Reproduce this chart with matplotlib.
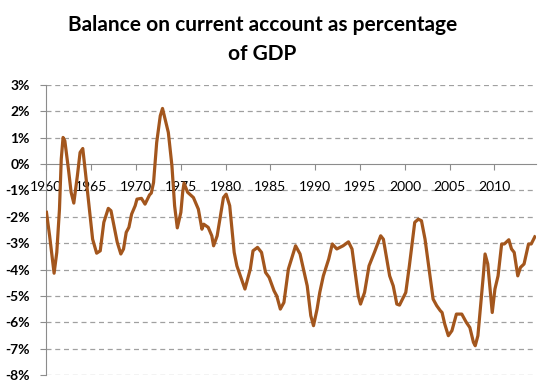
import matplotlib
matplotlib.use("Agg")
import matplotlib.pyplot as plt

title = "Balance on current account as percentage\nof GDP"

years = [1960.0, 1960.35, 1960.85, 1961.15, 1961.45, 1961.65, 1961.85, 1962.05, 1962.45, 1962.75,
         1963.05, 1963.45, 1963.75, 1964.05, 1964.35, 1964.75, 1965.15, 1965.6, 1966.0, 1966.4,
         1966.9, 1967.2, 1967.5, 1967.9, 1968.3, 1968.6, 1968.9, 1969.2, 1969.5, 1969.9,
         1970.1, 1970.6, 1971.0, 1971.5, 1971.7, 1971.95, 1972.3, 1972.7, 1972.95, 1973.6,
         1974.0, 1974.3, 1974.6, 1975.0, 1975.2, 1975.35, 1975.75, 1976.4, 1976.95, 1977.35,
         1977.55, 1978.05, 1978.45, 1978.65, 1979.05, 1979.75, 1980.05, 1980.45, 1980.95, 1981.25,
         1982.15, 1982.75, 1983.05, 1983.55, 1984.0, 1984.45, 1984.85, 1985.4, 1985.7, 1986.1,
         1986.5, 1987.0, 1987.8, 1988.3, 1989.1, 1989.5, 1989.8, 1990.2, 1990.5, 1990.9,
         1991.5, 1991.9, 1992.4, 1993.1, 1993.7, 1994.1, 1994.4, 1994.8, 1995.05, 1995.5,
         1996.0, 1996.6, 1997.3, 1997.6, 1998.3, 1998.7, 1999.1, 1999.4, 2000.1, 2000.5,
         2001.1, 2001.5, 2001.85, 2002.25, 2002.65, 2003.15, 2003.55, 2003.95, 2004.15, 2004.45,
         2004.85, 2005.25, 2005.75, 2006.35, 2006.85, 2007.25, 2007.65, 2007.85, 2008.15, 2008.75,
         2008.95, 2009.25, 2009.75, 2010.05, 2010.4, 2010.8, 2011.1, 2011.6, 2011.9, 2012.2,
         2012.6, 2012.9, 2013.3, 2013.8, 2014.1, 2014.5]

balance = [-1.83, -2.72, -4.14, -3.35, -1.71, 0.19, 1.01, 0.88, -0.19, -1.07,
           -1.48, -0.44, 0.44, 0.59, -0.32, -1.58, -2.85, -3.38, -3.29, -2.21,
           -1.68, -1.77, -2.28, -2.97, -3.41, -3.22, -2.59, -2.40, -1.90, -1.58,
           -1.33, -1.30, -1.52, -1.17, -1.10, -0.70, 0.82, 1.83, 2.11, 1.20,
           -0.06, -1.58, -2.42, -1.83, -1.07, -0.72, -1.07, -1.27, -1.71, -2.47,
           -2.28, -2.40, -2.72, -3.10, -2.72, -1.27, -1.14, -1.58, -3.35, -3.86,
           -4.74, -3.98, -3.29, -3.16, -3.35, -4.11, -4.30, -4.81, -5.00, -5.50,
           -5.25, -3.98, -3.10, -3.41, -4.62, -5.75, -6.13, -5.50, -4.87, -4.24,
           -3.60, -3.03, -3.22, -3.10, -2.95, -3.22, -3.98, -5.00, -5.31, -4.87,
           -3.86, -3.35, -2.72, -2.85, -4.24, -4.62, -5.31, -5.35, -4.87, -3.86,
           -2.21, -2.09, -2.15, -2.85, -3.86, -5.12, -5.37, -5.56, -5.63, -6.07,
           -6.51, -6.32, -5.69, -5.69, -6.00, -6.20, -6.76, -6.89, -6.51, -4.24,
           -3.41, -3.79, -5.63, -4.74, -4.24, -3.03, -3.03, -2.87, -3.22, -3.35,
           -4.24, -3.92, -3.79, -3.03, -3.03, -2.76]

x_ticks = [1960, 1965, 1970, 1975, 1980, 1985, 1990, 1995, 2000, 2005, 2010]
y_ticks = [3, 2, 1, 0, -1, -2, -3, -4, -5, -6, -7, -8]

plt.rcParams['font.family'] = ['Lato', 'DejaVu Sans']

fig = plt.figure(figsize=(5.5, 3.92), dpi=100)
ax = fig.add_axes([0.0845, 0.0434, 0.8895, 0.7398])

ax.plot(years, balance, color='#A3561D', linewidth=2.3, solid_joinstyle='round', zorder=3)

ax.set_xlim(1960, 2014.6)
ax.set_ylim(-8, 3)

ax.set_yticks(y_ticks)
ax.set_yticklabels([f"{v}%" for v in y_ticks], fontweight='bold', fontsize=10)
ax.set_xticks(x_ticks)
ax.set_xticklabels([str(v) for v in x_ticks], fontweight='bold', fontsize=10)

for v in y_ticks:
    if v != 0:
        ax.axhline(v, color='#a0a0a0', linewidth=0.9, linestyle=(0, (4, 3)), zorder=1)

for s in ['top', 'right']:
    ax.spines[s].set_visible(False)
ax.spines['bottom'].set_position(('data', 0))
ax.spines['bottom'].set_color('#8c8c8c')
ax.spines['left'].set_color('#8c8c8c')
ax.spines['bottom'].set_zorder(2)

ax.tick_params(axis='y', length=4, color='#8c8c8c', pad=8)
ax.tick_params(axis='x', length=4, color='#8c8c8c', pad=8)

fig.text(0.477, 0.90, title, ha='center', va='center', fontsize=15,
         fontweight='bold', linespacing=1.55)

fig.savefig('out.png', dpi=100)
